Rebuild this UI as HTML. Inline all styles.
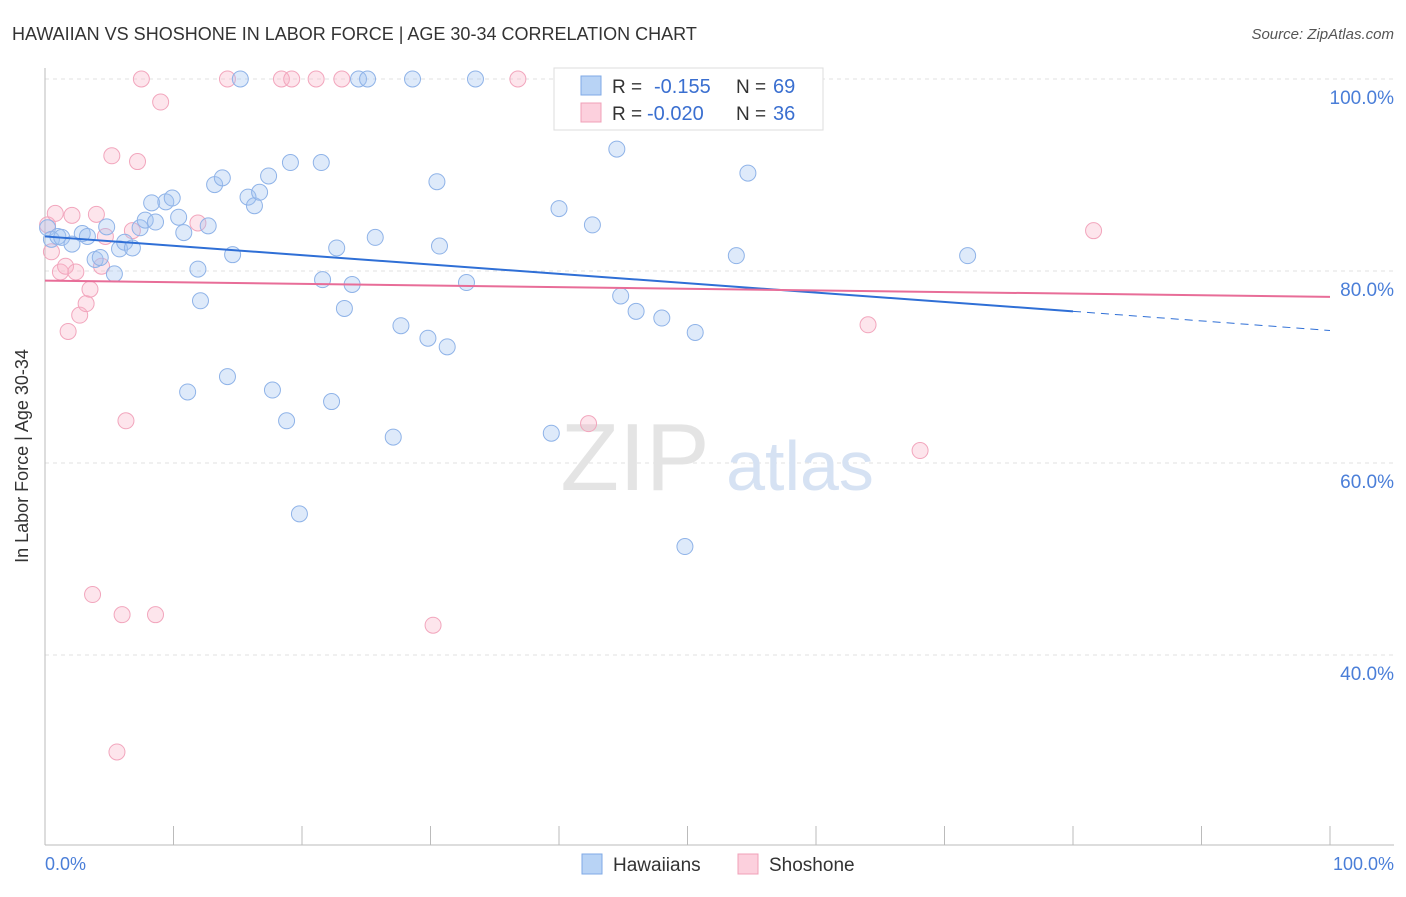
<!DOCTYPE html>
<html><head><meta charset="utf-8"><style>
body{margin:0;background:#fff;font-family:"Liberation Sans",sans-serif;}
svg text{font-family:"Liberation Sans",sans-serif;}
</style></head><body>
<svg width="1406" height="892" xmlns="http://www.w3.org/2000/svg">
<text x="12" y="40" font-size="18" fill="#333">HAWAIIAN VS SHOSHONE IN LABOR FORCE | AGE 30-34 CORRELATION CHART</text>
<text x="1394" y="39" font-size="15" fill="#555" text-anchor="end" font-style="italic">Source: ZipAtlas.com</text>
<g id="grid"></g>
<text x="635" y="490" font-size="96" fill="#e4e4e4" text-anchor="middle" font-family="Liberation Serif">ZIP</text>
<text x="800" y="490" font-size="70" fill="#d6e2f3" text-anchor="middle">atlas</text>
<g id="pts"></g>
<g id="trend"></g>
<text x="28" y="456" font-size="18" fill="#333" text-anchor="middle" transform="rotate(-90 28 456)">In Labor Force | Age 30-34</text>
<text x="45" y="870" font-size="18" fill="#4a7ed8">0.0%</text>
<text x="1394" y="870" font-size="18" fill="#4a7ed8" text-anchor="end">100.0%</text>
<g>
<rect x="554" y="68" width="269" height="62" fill="#fff" stroke="#ddd"/>
<rect x="581" y="76" width="20" height="19" fill="#b8d3f5" stroke="#7fa9e6"/>
<rect x="581" y="103" width="20" height="19" fill="#fcd0dd" stroke="#f0a0b8"/>
<text x="612" y="93" font-size="19" fill="#333">R = </text><text x="654" y="93" font-size="20" fill="#3a6fd0">-0.155</text>
<text x="736" y="93" font-size="19" fill="#333">N = </text><text x="773" y="93" font-size="20" fill="#3a6fd0">69</text>
<text x="612" y="120" font-size="19" fill="#333">R = </text><text x="647" y="120" font-size="20" fill="#3a6fd0">-0.020</text>
<text x="736" y="120" font-size="19" fill="#333">N = </text><text x="773" y="120" font-size="20" fill="#3a6fd0">36</text>
</g>
<g>
<rect x="582" y="854" width="20" height="20" fill="#b8d3f5" stroke="#7fa9e6"/>
<text x="613" y="871" font-size="19" fill="#333">Hawaiians</text>
<rect x="738" y="854" width="20" height="20" fill="#fcd0dd" stroke="#f0a0b8"/>
<text x="769" y="871" font-size="19" fill="#333">Shoshone</text>
</g>
</svg>
<script>
const yTicks=[100,80,60,40];
const yTickLabels=["100.0%","80.0%","60.0%","40.0%"];
const hawX=[0.2,0.5,1,1.3,2.1,2.9,3.3,3.9,4.3,4.8,5.4,5.8,6.2,6.8,7.4,7.8,8.3,8.6,9.4,9.9,10.4,10.8,11.9,12.1,12.7,13.2,13.8,14.6,15.2,15.8,16.3,16.7,17.4,17.7,18.8,19.1,19.8,21.5,21.6,22.3,22.7,23.3,23.9,24.4,25.1,25.7,27.1,27.7,28.6,29.8,30.5,30.7,31.3,32.8,33.5,39.4,40,42.6,44.5,44.8,46,48,49.8,50.6,53.8,54.7,71.8,11.1,14.2];
const hawY=[84.5,83.3,83.6,83.5,82.8,83.9,83.6,81.2,81.4,84.6,79.7,82.3,83,82.4,84.5,85.3,87.1,85.1,87.2,87.6,85.6,84,80.2,76.9,84.7,89,89.7,81.7,100,87.7,86.8,88.2,89.9,67.6,64.4,91.3,54.7,91.3,79.1,66.4,82.4,76.1,78.6,100,100,83.5,62.7,74.3,100,73,89.3,82.6,72.1,78.8,100,63.1,86.5,84.8,92.7,77.4,75.8,75.1,51.3,73.6,81.6,90.2,81.6,67.4,69];
const shoX=[0.2,0.5,0.8,1.2,1.6,1.8,2.1,2.4,2.7,3.2,3.5,3.7,4.0,4.4,4.7,5.2,5.6,6,6.3,6.8,7.2,7.5,8.6,9,11.9,14.2,18.4,19.2,21.1,23.1,30.2,36.8,42.3,64.05,68.1,81.6];
const shoY=[84.8,82,86,79.9,80.5,73.7,85.8,79.9,75.4,76.6,78.1,46.3,85.9,80.5,83.6,92,29.9,44.2,64.4,84.2,91.4,100,44.2,97.6,85,100,100,100,100,100,43.1,100,64.1,74.4,61.3,84.2];
const hawTrend=[0,83.6,80,75.8,100,73.8];
const shoTrend=[0,79,100,77.3];
const NS="http://www.w3.org/2000/svg";
const X=v=>45+v*12.85, Y=v=>79+(100-v)*9.6;
function mk(t,a,p){const e=document.createElementNS(NS,t);for(const k in a)e.setAttribute(k,a[k]);p.appendChild(e);return e;}
const grid=document.getElementById('grid');
yTicks.forEach((t,i)=>{
 const l=mk('line',{x1:45,x2:1394,y1:Y(t),y2:Y(t),stroke:'#e2e2e2','stroke-dasharray':'4,4'},grid);
 
 
 const tx=mk('text',{x:1394,y:Y(t)+25,'font-size':19,fill:'#4a7ed8','text-anchor':'end'},grid);
 tx.textContent=yTickLabels[i];
 
 
});
const ax=mk('line',{x1:45,x2:45,y1:68,y2:845,stroke:'#bbb'},grid);


const bx=mk('line',{x1:45,x2:1394,y1:845,y2:845,stroke:'#bbb'},grid);


for(let i=1;i<=10;i++){const t=mk('line',{x1:45+i*128.5,x2:45+i*128.5,y1:826,y2:845,stroke:'#bbb'},grid);
 
 }
const pts=document.getElementById('pts');
shoX.forEach((x,i)=>{const c=mk('circle',{cx:X(x),cy:Y(shoY[i]),r:8,fill:'rgba(248,180,200,0.35)',stroke:'#f2a6bd','stroke-width':1},pts);
 
 });
hawX.forEach((x,i)=>{const c=mk('circle',{cx:X(x),cy:Y(hawY[i]),r:8,fill:'rgba(160,195,240,0.35)',stroke:'#8fb3e8','stroke-width':1},pts);
 
 });
const tr=document.getElementById('trend');
let l1=mk('line',{x1:X(hawTrend[0]),y1:Y(hawTrend[1]),x2:X(hawTrend[2]),y2:Y(hawTrend[3]),stroke:'#2f6fd6','stroke-width':2},tr);


let l2=mk('line',{x1:X(hawTrend[2]),y1:Y(hawTrend[3]),x2:X(hawTrend[4]),y2:Y(hawTrend[5]),stroke:'#2f6fd6','stroke-width':1,'stroke-dasharray':'8,6'},tr);


let l3=mk('line',{x1:X(shoTrend[0]),y1:Y(shoTrend[1]),x2:X(shoTrend[2]),y2:Y(shoTrend[3]),stroke:'#e86d98','stroke-width':2},tr);


</script>
</body></html>
